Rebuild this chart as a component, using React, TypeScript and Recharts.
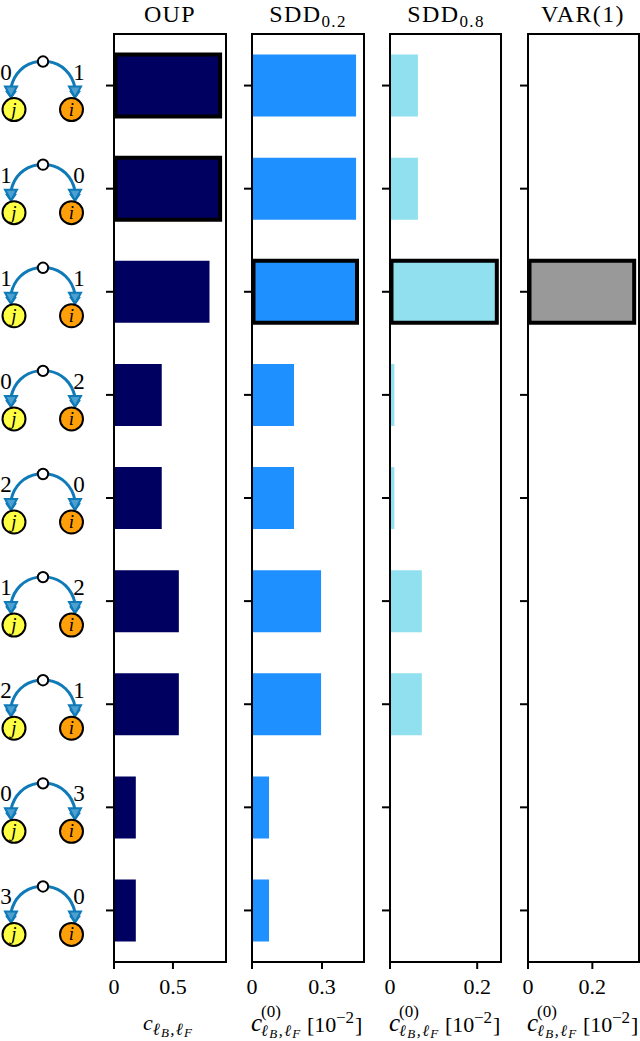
import { BarChart, Bar, XAxis, YAxis, Rectangle, usePlotArea } from 'recharts'

const categories = ['0,1', '1,0', '1,1', '0,2', '2,0', '1,2', '2,1', '0,3', '3,0']
const backLengths = [0, 1, 1, 0, 2, 1, 2, 0, 3]
const forwardLengths = [1, 0, 1, 2, 0, 2, 1, 3, 0]

const oupValues = [0.9, 0.9, 0.81, 0.405, 0.405, 0.55, 0.55, 0.185, 0.185]
const sdd02Values = [0.446, 0.446, 0.45, 0.18, 0.18, 0.296, 0.296, 0.073, 0.073]
const sdd08Values = [0.064, 0.064, 0.245, 0.01, 0.01, 0.073, 0.073, 0, 0]
const varValues = [0, 0, 0.33, 0, 0, 0, 0, 0, 0]

const SERIF = '"Liberation Serif", serif'
const BLUE = '#0f7ab8'

function MotifTick({ y, index, axisX }: any) {
  const head = (tx: number) => (
    <g fill="none" stroke={BLUE} strokeWidth={2}>
      <path d={`M${tx - 6} ${y + 1}L${tx + 6} ${y + 1}L${tx} ${y + 12}Z`} fill="#4d9fd0" />
      <path d={`M${tx - 5} ${y + 5}L${tx} ${y + 12}L${tx + 5} ${y + 5}`} />
    </g>
  )
  return (
    <g>
      <line x1={axisX - 8} x2={axisX} y1={y} y2={y} stroke="#000" strokeWidth={2} />
      <path d={`M38 ${y - 24}C24 ${y - 22} 14 ${y - 12} 11 ${y + 2}`} fill="none" stroke={BLUE} strokeWidth={3} />
      <path d={`M48 ${y - 24}C62 ${y - 22} 72 ${y - 12} 75 ${y + 2}`} fill="none" stroke={BLUE} strokeWidth={3} />
      {head(11)}
      {head(75)}
      <circle cx={43} cy={y - 24} r={5.2} fill="#fff" stroke="#000" strokeWidth={2} />
      <circle cx={14} cy={y + 24} r={11.5} fill="#ffff44" stroke="#000" strokeWidth={2} />
      <circle cx={71.5} cy={y + 24} r={11.5} fill="#ff9f0a" stroke="#000" strokeWidth={2} />
      <text x={14} y={y + 30} textAnchor="middle" fontFamily={SERIF} fontSize={19} fontStyle="italic">j</text>
      <text x={71.5} y={y + 30} textAnchor="middle" fontFamily={SERIF} fontSize={19} fontStyle="italic">i</text>
      <text x={6} y={y - 6} textAnchor="middle" fontFamily={SERIF} fontSize={23}>{backLengths[index]}</text>
      <text x={79} y={y - 6} textAnchor="middle" fontFamily={SERIF} fontSize={23}>{forwardLengths[index]}</text>
    </g>
  )
}

function PlainTick({ y, axisX }: any) {
  return <line x1={axisX - 8} x2={axisX} y1={y} y2={y} stroke="#000" strokeWidth={2} />
}

// top and right spines
function PlotFrame() {
  const area = usePlotArea()
  if (!area) return null
  return <rect x={area.x} y={area.y} width={area.width} height={area.height} fill="none" stroke="#000" strokeWidth={2} />
}

function Panel({ values, color, left, plotLeft, plotRight, xMax, ticks, highlight, motifs }: any) {
  const rows = categories.map((name, i) => ({ name, value: values[i] }))
  const width = plotRight - left
  const axisX = plotLeft - left
  return (
    <div style={{ position: 'absolute', left, top: 0 }}>
      <BarChart
        width={width + 1}
        height={1041}
        data={rows}
        layout="vertical"
        barCategoryGap="20%"
        margin={{ top: 34, right: 1, bottom: 0, left: 0 }}
      >
        <XAxis
          type="number"
          domain={[0, xMax]}
          ticks={ticks}
          height={79}
          interval={0}
          tick={{ fill: '#000', fontSize: 22, fontFamily: SERIF }}
          tickFormatter={(v) => String(v)}
          tickSize={7}
          tickMargin={9}
          axisLine={{ stroke: '#000', strokeWidth: 2 }}
          tickLine={{ stroke: '#000', strokeWidth: 2 }}
        />
        <YAxis
          type="category"
          dataKey="name"
          width={axisX}
          interval={0}
          tick={(p: any) => (motifs ? <MotifTick {...p} axisX={axisX} /> : <PlainTick {...p} axisX={axisX} />)}
          tickLine={false}
          axisLine={{ stroke: '#000', strokeWidth: 2 }}
        />
        <Bar
          dataKey="value"
          fill={color}
          isAnimationActive={false}
          shape={(p: any) =>
            highlight.includes(p.index) ? (
              <Rectangle x={p.x + 1.5} y={p.y} width={p.width - 1.5} height={p.height} fill={color} stroke="#000" strokeWidth={4} />
            ) : (
              <Rectangle x={p.x} y={p.y} width={p.width} height={p.height} fill={color} />
            )
          }
        />
        <PlotFrame />
      </BarChart>
    </div>
  )
}

function AxisLabel({ x }: { x: number }) {
  return (
    <g fontFamily={SERIF}>
      <text x={x} y={1031} fontSize={25} fontStyle="italic">c</text>
      <text x={x + 10} y={1016.5} fontSize={17}>(0)</text>
      <text x={x + 10} y={1036} fontSize={16} fontStyle="italic" letterSpacing={1.5}>
        ℓ<tspan fontSize={13} dy={2}>B</tspan>
        <tspan dy={-2}>,ℓ</tspan>
        <tspan fontSize={13} dy={2}>F</tspan>
      </text>
      <text x={x + 56} y={1032} fontSize={22}>[10</text>
      <text x={x + 85} y={1023} fontSize={17}>−2</text>
      <text x={x + 104} y={1032} fontSize={22}>]</text>
    </g>
  )
}

export default function App() {
  return (
    <div style={{ position: 'absolute', left: 0, top: 0, width: 640, height: 1041, overflow: 'hidden', background: '#fff' }}>
      <Panel values={oupValues} color="#000060" left={0} plotLeft={114} plotRight={226} xMax={0.95} ticks={[0, 0.5]} highlight={[0, 1]} motifs />
      <Panel values={sdd02Values} color="#1e90ff" left={232} plotLeft={252} plotRight={364} xMax={0.48} ticks={[0, 0.3]} highlight={[2]} />
      <Panel values={sdd08Values} color="#90e0ef" left={370} plotLeft={390} plotRight={501} xMax={0.2546} ticks={[0, 0.2]} highlight={[2]} />
      <Panel values={varValues} color="#999999" left={508} plotLeft={528} plotRight={639} xMax={0.345} ticks={[0, 0.2]} highlight={[2]} />
      <svg width={640} height={1041} style={{ position: 'absolute', left: 0, top: 0, pointerEvents: 'none' }}>
        <g fontFamily={SERIF} fontSize={24} fill="#000" letterSpacing={1.4}>
          <text x={170} y={22} textAnchor="middle">OUP</text>
          <text x={308} y={22} textAnchor="middle">SDD<tspan fontSize={17} dy={5}>0.2</tspan></text>
          <text x={446} y={22} textAnchor="middle">SDD<tspan fontSize={17} dy={5}>0.8</tspan></text>
          <text x={583} y={22} textAnchor="middle">VAR(1)</text>
        </g>
        <text x={143} y={1030} fontFamily={SERIF} fontSize={22}>
          <tspan fontStyle="italic">c</tspan>
          <tspan fontSize={17} fontStyle="italic" dy={5} letterSpacing={1.2}>ℓ</tspan>
          <tspan fontSize={13} fontStyle="italic" dy={2} letterSpacing={1.2}>B</tspan>
          <tspan fontSize={17} fontStyle="italic" dy={-2} letterSpacing={1.2}>,ℓ</tspan>
          <tspan fontSize={13} fontStyle="italic" dy={2}>F</tspan>
        </text>
        <AxisLabel x={251} />
        <AxisLabel x={389} />
        <AxisLabel x={527} />
      </svg>
    </div>
  )
}
